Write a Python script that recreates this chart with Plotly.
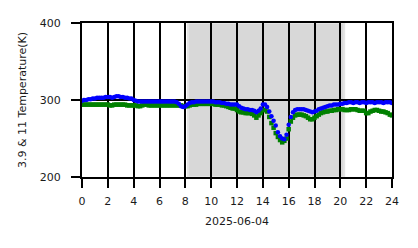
import plotly.graph_objects as go

# 10-minute samples, hours 0..24
hours = [i / 6 for i in range(145)]

temp_39 = [
    299, 300, 300, 301, 301, 302,
    302, 303, 303, 303, 303, 304,
    304, 304, 303, 304, 305, 305,
    304, 304, 303, 303, 302, 302,
    300, 299, 298, 298, 298, 298,
    298, 298, 298, 298, 298, 298,
    298, 298, 298, 298, 298, 298,
    298, 298, 297, 295, 292, 291,
    292, 294, 296, 297, 297, 298,
    298, 298, 298, 298, 298, 298,
    298, 298, 297, 297, 297, 296,
    296, 295, 295, 294, 294, 294,
    294, 292, 290, 289, 288, 288,
    287, 287, 286, 284, 286, 289,
    294, 294, 291, 285, 279, 273,
    267, 258, 253, 250, 249, 255,
    268, 278, 284, 287, 288, 288,
    288, 288, 287, 286, 285, 284,
    285, 286, 288, 289, 290, 291,
    292, 293, 293, 294, 294, 294,
    295, 295, 296, 296, 297, 297,
    296, 297, 297, 296, 297, 297,
    296, 297, 297, 297, 296, 297,
    297, 297, 296, 297, 297, 297,
    296,
]

temp_11 = [
    294, 294, 294, 294, 294, 294,
    294, 294, 294, 294, 294, 294,
    294, 293, 293, 294, 294, 294,
    294, 294, 294, 293, 293, 293,
    293, 293, 292, 292, 293, 294,
    294, 293, 293, 293, 293, 293,
    293, 293, 293, 293, 293, 293,
    293, 293, 293, 293, 293, 292,
    292, 292, 293, 294, 294, 294,
    295, 295, 295, 295, 295, 295,
    295, 295, 294, 294, 294, 293,
    293, 292, 291, 290, 289, 289,
    287, 285, 284, 284, 283, 283,
    283, 282, 280, 277, 280, 283,
    287, 287, 285, 278, 270, 264,
    257, 252, 248, 245, 247, 250,
    262, 272, 277, 280, 281, 281,
    281, 280, 279, 277, 275, 275,
    277, 279, 281, 283, 284, 285,
    285, 286, 286, 287, 287, 288,
    288, 288, 287, 287, 287, 288,
    288, 288, 287, 286, 286, 286,
    283, 283, 285, 286, 287, 287,
    286, 285, 285, 284, 283, 281,
    280,
]

night_start = 8.2
night_end = 20.3

x_ticks = list(range(0, 25, 2))
y_ticks = [200, 300, 400]
x_title = "2025-06-04"
y_title = "3.9 & 11 Temperature(K)"

fig = go.Figure()
fig.add_trace(go.Scatter(
    x=hours, y=temp_11, mode="markers", name="11",
    marker=dict(symbol="square", size=4.5, color="#008000", line=dict(width=0)),
))
fig.add_trace(go.Scatter(
    x=hours, y=temp_39, mode="markers", name="3.9",
    marker=dict(symbol="circle", size=4.5, color="#0000ff", line=dict(width=0)),
))

fig.add_shape(type="rect", xref="x", yref="y",
              x0=night_start, x1=night_end, y0=200, y1=400,
              fillcolor="#d8d8d8", line=dict(color="#e4e4e4", width=2),
              layer="below")

font = dict(family="DejaVu Sans", size=11, color="#1a1a1a")
axis_common = dict(
    showgrid=True, gridcolor="black", gridwidth=2,
    showline=True, linecolor="black", linewidth=2, mirror=True,
    ticks="outside", ticklen=9, tickwidth=2, tickcolor="black",
    zeroline=False, tickfont=font,
)

fig.update_xaxes(range=[0, 24], tickvals=x_ticks, ticktext=[str(t) for t in x_ticks],
                 ticklabelstandoff=4,
                 title=dict(text=x_title, font=font, standoff=10), **axis_common)
fig.update_yaxes(range=[200, 400], tickvals=y_ticks, ticktext=[str(t) for t in y_ticks],
                 ticklabelstandoff=8,
                 title=dict(text=y_title, font=font, standoff=11), **axis_common)

fig.update_layout(
    width=418, height=248,
    margin=dict(l=82, r=26, t=23, b=71),
    paper_bgcolor="white", plot_bgcolor="white",
    showlegend=False,
)

fig.write_html("out.html")
